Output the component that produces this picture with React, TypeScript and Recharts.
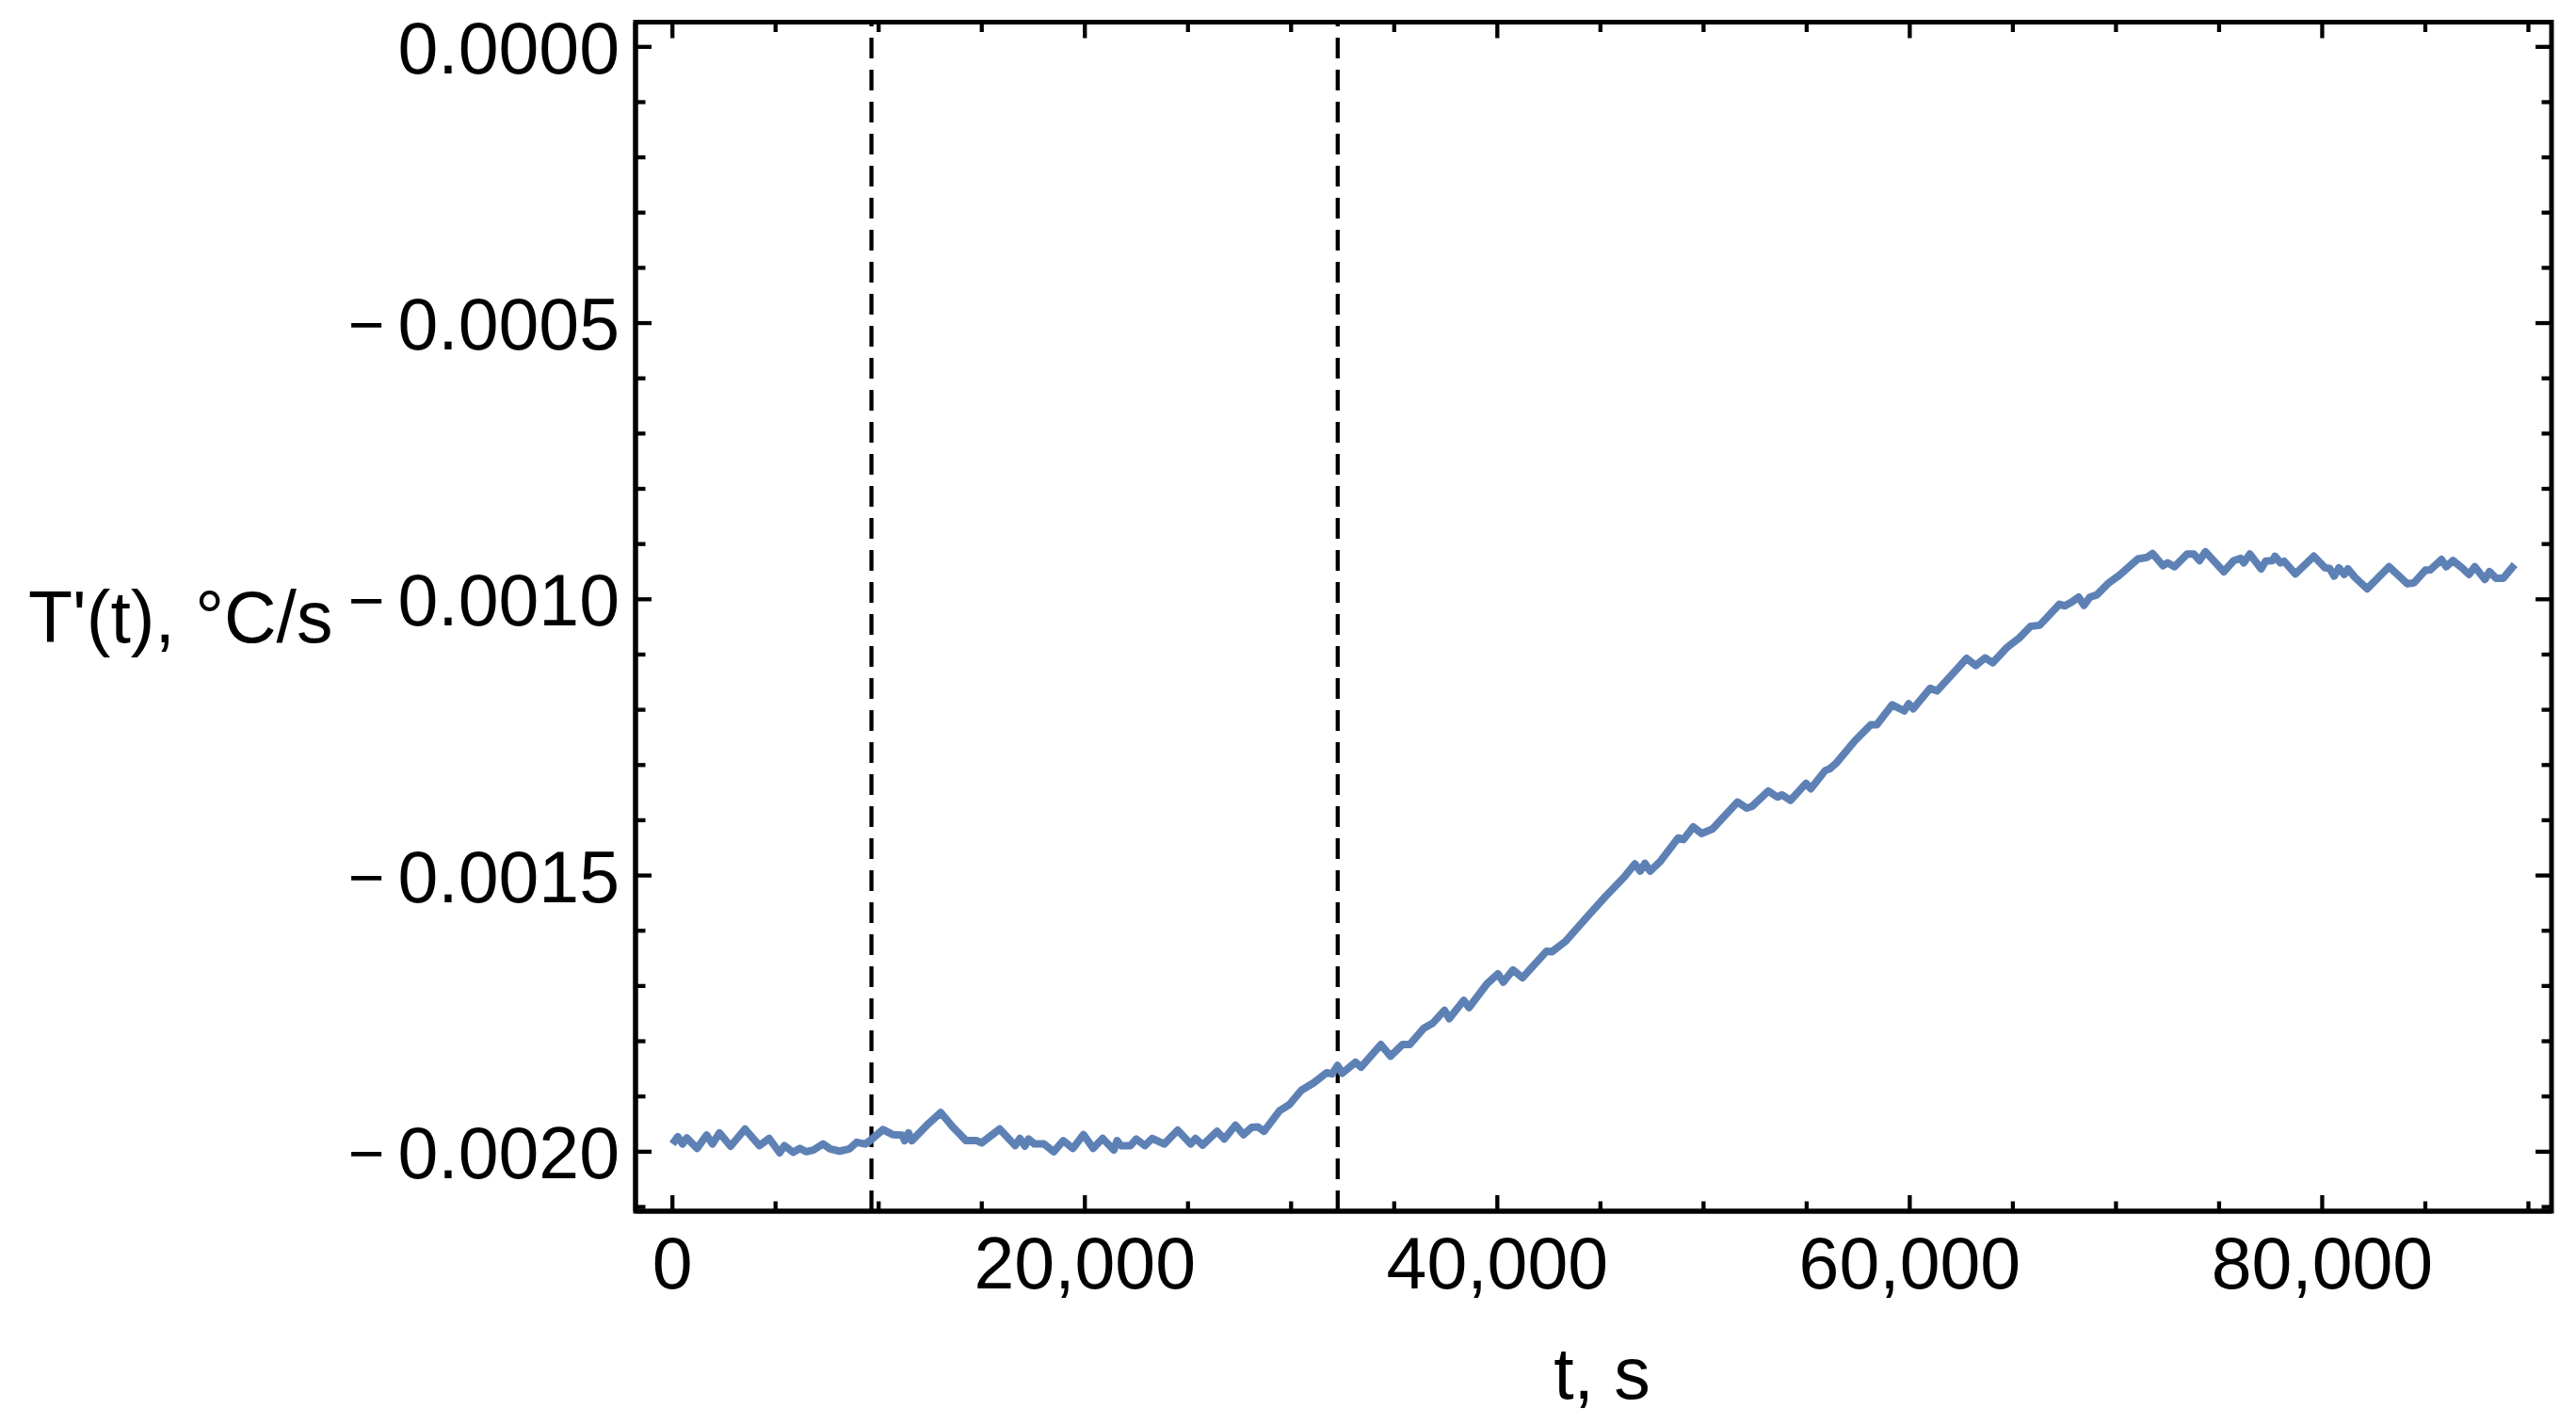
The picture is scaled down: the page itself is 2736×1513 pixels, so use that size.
import { LineChart, Line, XAxis, YAxis, ReferenceLine, ReferenceArea } from 'recharts'

// T'(t) readings, seconds / °C per second
const baseTimes = [
  0, 260, 490, 700, 1190, 1660, 1940, 2280, 2820, 3520, 4220, 4690, 5200, 5430, 5850, 6180,
  6480, 6830, 7300, 7650, 8110, 8580, 8930, 9350, 9580, 10210, 10680, 11140, 11260, 11450,
  11610, 12420, 13010, 13590, 14240, 14760, 14990, 15870, 16620, 16850, 17090, 17270, 17550,
  18020, 18490, 18950, 19420, 19930, 20400, 20860, 21400, 21560, 21750, 22210, 22490, 22910,
  23260, 23850, 24500, 25130, 25360, 25710, 26410, 26760, 27300, 27690, 28090, 28390, 28690,
  29440, 29910, 30490,
]
const baseRates = [
  -0.001986, -0.001973, -0.001986, -0.001975, -0.001994, -0.00197, -0.001986, -0.001966,
  -0.00199, -0.001959, -0.001989, -0.001976, -0.002002, -0.001989, -0.002001, -0.001994,
  -0.002, -0.001997, -0.001986, -0.001995, -0.001999, -0.001995, -0.001983, -0.001986,
  -0.00198, -0.00196, -0.001969, -0.00197, -0.00198, -0.001966, -0.00198, -0.001949,
  -0.001929, -0.001955, -0.00198, -0.00198, -0.001984, -0.001959, -0.001989, -0.001976,
  -0.00199, -0.001977, -0.001986, -0.001986, -0.002, -0.00198, -0.001994, -0.001969,
  -0.001994, -0.001976, -0.001997, -0.00198, -0.001989, -0.001989, -0.001977, -0.001989,
  -0.001976, -0.001986, -0.001961, -0.001986, -0.001976, -0.001988, -0.001963, -0.001977,
  -0.001952, -0.001969, -0.001956, -0.001955, -0.001963, -0.001926, -0.001915, -0.001889,
]

const riseTimes = [
  31110, 31730, 31990, 32250, 32480, 33120, 33390, 34350, 34820, 35400, 35750, 36450, 36880,
  37440, 37670, 38370, 38630, 39500, 40030, 40290, 40760, 41220, 42390, 42650, 43310, 44400,
  45270, 46150, 46670, 46930, 47160, 47410, 47890, 48770, 49030, 49500, 49900, 50430, 51650,
  52090, 52350, 53140, 53580, 53800, 54220, 54970, 55200, 55900, 56110,
]
const riseRates = [
  -0.001875, -0.001857, -0.001859, -0.001844, -0.001858, -0.001838, -0.001847, -0.001806,
  -0.001827, -0.001806, -0.001806, -0.001776, -0.001767, -0.001744, -0.001759, -0.001726,
  -0.001739, -0.001696, -0.001678, -0.001693, -0.001671, -0.001685, -0.001637, -0.001638,
  -0.001619, -0.001573, -0.001537, -0.001503, -0.001479, -0.001492, -0.001478, -0.001492,
  -0.001475, -0.001432, -0.001435, -0.001412, -0.001424, -0.001416, -0.001367, -0.001378,
  -0.001375, -0.001347, -0.001358, -0.001354, -0.001364, -0.001333, -0.001343, -0.00131,
  -0.001307,
]

const plateauTimes = [
  56450, 57340, 58110, 58400, 59150, 59730, 59950, 60170, 60990, 61320, 62760, 63200, 63650,
  64020, 64690, 65310, 65860, 66300, 67260, 67520, 67850, 68190, 68450, 68740, 69070, 69630,
  70180, 71060, 71510, 71770, 72280, 72500, 72840, 73460, 73770, 74050, 74340, 75230, 75710,
  76050, 76200, 76490, 77040, 77260, 77600, 77710, 77970, 78150, 78700, 79590, 80140, 80360,
  80580, 80810, 81070, 81250, 81580, 82180, 83240, 84130, 84460, 85010, 85230, 85790, 86010,
  86340, 86780, 87120, 87400, 87890, 88110, 88440, 88780, 89330,
]
const plateauRates = [
  -0.001296, -0.001256, -0.001227, -0.001227, -0.001191, -0.001202, -0.001189, -0.001198,
  -0.001161, -0.001166, -0.001107, -0.00112, -0.001106, -0.001115, -0.001088, -0.00107,
  -0.001049, -0.001047, -0.001009, -0.001012, -0.001005, -0.000996, -0.001011, -0.000996,
  -0.000992, -0.000971, -0.000956, -0.000927, -0.000924, -0.000917, -0.000939, -0.000934,
  -0.000941, -0.000918, -0.000918, -0.00093, -0.000914, -0.00095, -0.00093, -0.000926,
  -0.000934, -0.000918, -0.000945, -0.000931, -0.00093, -0.000922, -0.000934, -0.000931,
  -0.000954, -0.000922, -0.000943, -0.000944, -0.000958, -0.000943, -0.000955, -0.000945,
  -0.00096, -0.000981, -0.000941, -0.000972, -0.00097, -0.000947, -0.000947, -0.000928,
  -0.000941, -0.00093, -0.000943, -0.000955, -0.000941, -0.000964, -0.00095, -0.000962,
  -0.000962, -0.000937,
]

// the two regime boundaries (dashed)
const boundaries = [9650, 32260]

const xTicks = [
  0, 5000, 10000, 15000, 20000, 25000, 30000, 35000, 40000, 45000, 50000, 55000, 60000, 65000,
  70000, 75000, 80000, 85000, 90000,
]
const xLabelled = [0, 20000, 40000, 60000, 80000]
const yTicks = [
  0, -0.0001, -0.0002, -0.0003, -0.0004, -0.0005, -0.0006, -0.0007, -0.0008, -0.0009, -0.001,
  -0.0011, -0.0012, -0.0013, -0.0014, -0.0015, -0.0016, -0.0017, -0.0018, -0.0019, -0.002,
  -0.0021,
]
const yLabelled = [0, -0.0005, -0.001, -0.0015, -0.002]

const X_DOMAIN = [-1790, 91120]
const Y_DOMAIN = [-0.0021077, 0.0000448]

const data = [
  ...baseTimes.map((t, i) => ({ t, v: baseRates[i] })),
  ...riseTimes.map((t, i) => ({ t, v: riseRates[i] })),
  ...plateauTimes.map((t, i) => ({ t, v: plateauRates[i] })),
]

const W = 2736
const H = 1513
const LEFT = 675
const RIGHT = 2710
const TOP = 23.5
const BOTTOM = 1286
const FONT = '"Liberation Sans", Arial, sans-serif'
const FS = 77
const TICK_W = 4.3

const isIn = (list: number[], v: number) => list.some((m) => Math.abs(m - v) < 1e-9)

function XTick(props: any) {
  const { x, payload } = props
  const major = isIn(xLabelled, payload.value)
  const len = major ? 17 : 10.5
  return (
    <g>
      <line x1={x} x2={x} y1={BOTTOM} y2={BOTTOM - len} stroke="#000" strokeWidth={TICK_W} />
      <line x1={x} x2={x} y1={TOP} y2={TOP + len} stroke="#000" strokeWidth={TICK_W} />
      {major && (
        <text x={x} y={BOTTOM + 82} textAnchor="middle" fontFamily={FONT} fontSize={FS} fill="#000">
          {payload.value.toLocaleString('en-US')}
        </text>
      )}
    </g>
  )
}

function YTick(props: any) {
  const { y, payload } = props
  const major = isIn(yLabelled, payload.value)
  const len = major ? 17 : 10.5
  const v = payload.value
  const negative = Math.abs(v) > 1e-12
  return (
    <g>
      <line x1={LEFT} x2={LEFT + len} y1={y} y2={y} stroke="#000" strokeWidth={TICK_W} />
      <line x1={RIGHT} x2={RIGHT - len} y1={y} y2={y} stroke="#000" strokeWidth={TICK_W} />
      {major && (
        <text x={LEFT - 17} y={y + 28} textAnchor="end" fontFamily={FONT} fontSize={FS} fill="#000">
          {negative && (
            <tspan fontSize={66} dy={-4}>
              {'\u2212'}
            </tspan>
          )}
          <tspan dx={negative ? 14 : 0} dy={negative ? 4 : 0}>
            {Math.abs(v).toFixed(4)}
          </tspan>
        </text>
      )}
    </g>
  )
}

export default function App() {
  return (
    <div style={{ position: 'absolute', left: 0, top: 0, width: W, height: H, background: '#fff' }}>
      <LineChart width={W} height={H} data={data} margin={{ top: TOP, right: W - RIGHT, bottom: 0, left: 0 }}>
        <ReferenceArea
          x1={X_DOMAIN[0]}
          x2={X_DOMAIN[1]}
          y1={Y_DOMAIN[0]}
          y2={Y_DOMAIN[1]}
          fill="none"
          stroke="#000"
          strokeWidth={5}
          ifOverflow="visible"
        />
        <XAxis
          dataKey="t"
          type="number"
          domain={X_DOMAIN}
          allowDataOverflow
          ticks={xTicks}
          interval={0}
          height={H - BOTTOM}
          tickLine={false}
          tickSize={0}
          tickMargin={0}
          axisLine={{ stroke: '#000', strokeWidth: 5 }}
          tick={<XTick />}
          label={{ value: 't, s', position: 'insideBottom', offset: 28, dx: 9, fontSize: FS, fontFamily: FONT, fill: '#000' }}
        />
        <YAxis
          type="number"
          domain={Y_DOMAIN}
          allowDataOverflow
          ticks={yTicks}
          interval={0}
          width={LEFT}
          tickLine={false}
          tickSize={0}
          tickMargin={0}
          axisLine={{ stroke: '#000', strokeWidth: 5 }}
          tick={<YTick />}
          label={{ value: "T'(t), °C/s", position: 'insideLeft', offset: 30, fontSize: FS, fontFamily: FONT, fill: '#000' }}
        />
        {boundaries.map((b) => (
          <ReferenceLine key={b} x={b} stroke="#000" strokeWidth={4.3} strokeDasharray="22 12" />
        ))}
        <Line
          dataKey="v"
          type="linear"
          stroke="#5E81B5"
          strokeWidth={8}
          strokeLinejoin="round"
          dot={false}
          isAnimationActive={false}
        />
      </LineChart>
    </div>
  )
}
